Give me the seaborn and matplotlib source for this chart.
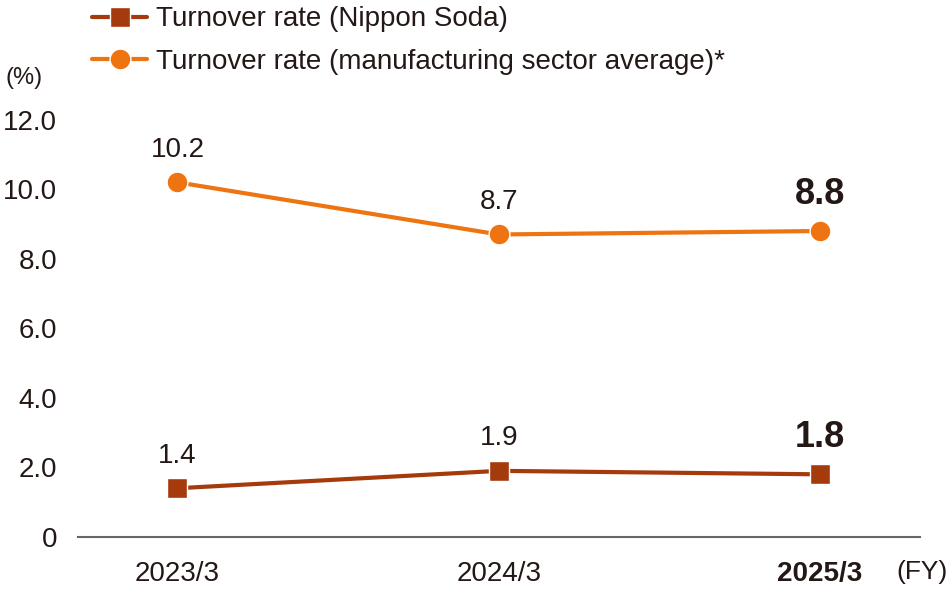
import pandas as pd
import matplotlib.pyplot as plt
import seaborn as sns

years = ["2023/3", "2024/3", "2025/3"]
nippon_soda = [1.4, 1.9, 1.8]
manufacturing_avg = [10.2, 8.7, 8.8]
yticks = [0, 2, 4, 6, 8, 10, 12]
ytick_labels = ["0", "2.0", "4.0", "6.0", "8.0", "10.0", "12.0"]

RED = "#a53a0c"
ORANGE = "#ee7412"
TEXT = "#231815"

sns.set_style("white")
plt.rcParams['font.family'] = ['Liberation Sans', 'DejaVu Sans']

df = pd.DataFrame({"x": list(range(len(years))) * 2,
                   "rate": nippon_soda + manufacturing_avg,
                   "series": ["Turnover rate (Nippon Soda)"] * 3
                   + ["Turnover rate (manufacturing sector average)*"] * 3})

fig = plt.figure(figsize=(9.5, 5.9), dpi=100)
ax = fig.add_axes([0.082, 0.09, 0.886, 0.707])

sns.lineplot(data=df, x="x", y="rate", hue="series", style="series",
             palette=[RED, ORANGE], markers=["s", "o"], dashes=False,
             markersize=15, linewidth=3, markeredgecolor="white",
             markeredgewidth=1, ax=ax)

ax.set_xlim(-0.31, 2.31)
ax.set_ylim(0, 12)
ax.set_yticks(yticks)
ax.set_yticklabels(ytick_labels)
ax.set_xticks(range(len(years)))
ax.set_xticklabels(years)
ax.tick_params(axis="both", length=0, labelsize=20, colors=TEXT)
ax.tick_params(axis="y", pad=15)
ax.tick_params(axis="x", pad=17)
ax.get_xticklabels()[-1].set_fontweight("bold")
ax.set_xlabel("")
ax.set_ylabel("")
for s in ["top", "right", "left"]:
    ax.spines[s].set_visible(False)
ax.spines["bottom"].set_color("#666666")
ax.spines["bottom"].set_linewidth(1.5)

for vals in [nippon_soda, manufacturing_avg]:
    for i, v in enumerate(vals):
        last = i == len(vals) - 1
        ax.annotate(f"{v:.1f}", (i, v), xytext=(0, 14), textcoords="offset points",
                    ha="center", va="bottom", color=TEXT,
                    fontsize=26 if last else 20,
                    fontweight="bold" if last else "normal")

fig.text(0.006, 0.868, "(%)", fontsize=17, color=TEXT, va="center")
fig.text(0.997, 0.031, "(FY)", fontsize=19, color=TEXT, va="center", ha="right")

handles, labels = ax.get_legend_handles_labels()
ax.legend(handles, labels, loc="upper left", bbox_to_anchor=(0.085, 1.008),
          bbox_transform=fig.transFigure, frameon=False, fontsize=20,
          handlelength=2.0, handletextpad=0.3, labelspacing=0.6,
          labelcolor=TEXT, borderaxespad=0)

fig.savefig("out.png", dpi=100)
